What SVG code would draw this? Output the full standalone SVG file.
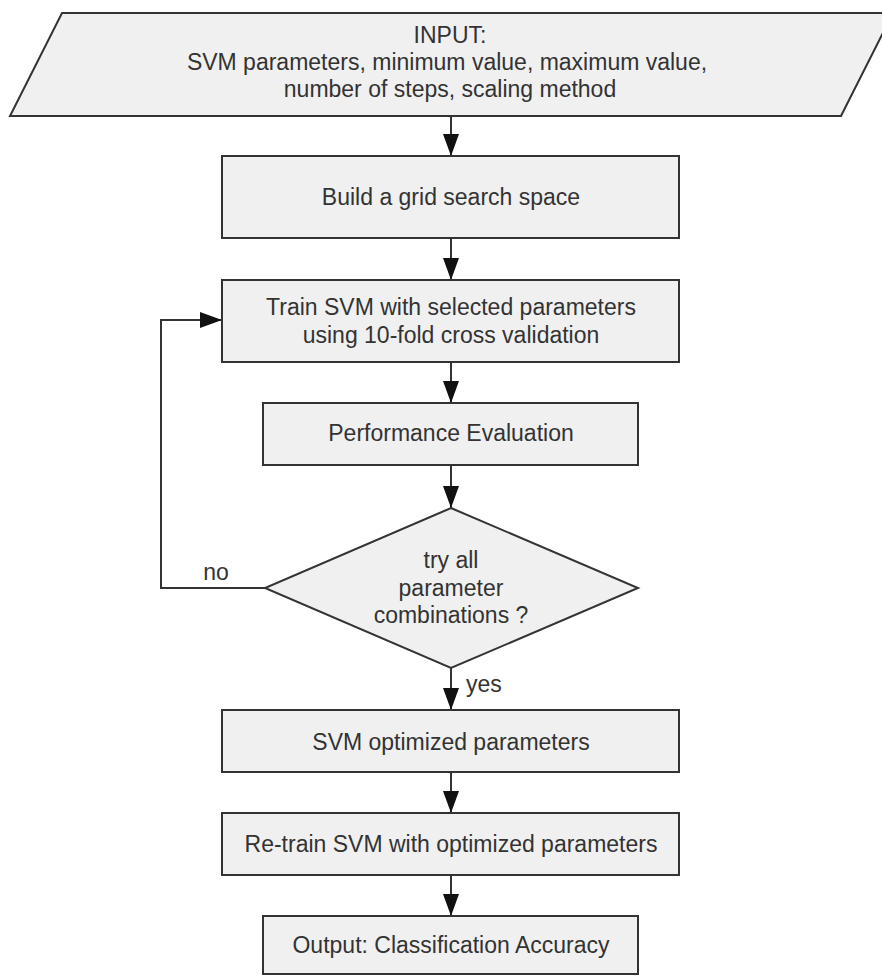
<svg xmlns="http://www.w3.org/2000/svg" width="882" height="976" viewBox="0 0 882 976">
<defs>
<style>
.shape{fill:#f0f0f0;stroke:#333;stroke-width:2}
.conn{fill:none;stroke:#333;stroke-width:2}
text{font-family:"Liberation Sans",Arial,sans-serif;font-size:23px;fill:#333;text-anchor:middle}
.lbl{font-size:23px}
</style>
<marker id="arr" markerUnits="userSpaceOnUse" markerWidth="22" markerHeight="16" refX="22" refY="8" orient="auto">
<path d="M0,0 L22,8 L0,16 Z" fill="#111"/>
</marker>
</defs>
<rect width="882" height="976" fill="#fff"/>
<g id="connectors">
<line class="conn" x1="451" y1="116" x2="451" y2="156" marker-end="url(#arr)"/>
<line class="conn" x1="451" y1="238" x2="451" y2="280" marker-end="url(#arr)"/>
<line class="conn" x1="451" y1="362" x2="451" y2="403" marker-end="url(#arr)"/>
<line class="conn" x1="451" y1="465" x2="451" y2="508" marker-end="url(#arr)"/>
<line class="conn" x1="451" y1="668" x2="451" y2="710" marker-end="url(#arr)"/>
<line class="conn" x1="451" y1="772" x2="451" y2="813" marker-end="url(#arr)"/>
<line class="conn" x1="451" y1="875" x2="451" y2="916" marker-end="url(#arr)"/>
<polyline class="conn" points="265,588 161,588 161,320 222,320" marker-end="url(#arr)"/>
<text class="lbl" x="216" y="580">no</text>
<text class="lbl" x="466" y="692" style="text-anchor:start">yes</text>
</g>
<g id="input">
<polygon class="shape" points="62,13 893,13 841,116 10,116"/>
<text x="450" y="43">INPUT:</text>
<text x="447" y="70">SVM parameters, minimum value, maximum value,</text>
<text x="450" y="97">number of steps, scaling method</text>
</g>
<g id="build">
<rect class="shape" x="222" y="156" width="457" height="82"/>
<text x="451" y="205">Build a grid search space</text>
</g>
<g id="train">
<rect class="shape" x="222" y="280" width="457" height="82"/>
<text x="451" y="315">Train SVM with selected parameters</text>
<text x="451" y="343">using 10-fold cross validation</text>
</g>
<g id="perf">
<rect class="shape" x="263" y="403" width="375" height="62"/>
<text x="451" y="441">Performance Evaluation</text>
</g>
<g id="decision">
<polygon class="shape" points="451,508 638,588 451,668 265,588"/>
<text x="451" y="568">try all</text>
<text x="451" y="596">parameter</text>
<text x="451" y="623">combinations ?</text>
</g>
<g id="optimized">
<rect class="shape" x="222" y="710" width="457" height="62"/>
<text x="451" y="750">SVM optimized parameters</text>
</g>
<g id="retrain">
<rect class="shape" x="222" y="813" width="457" height="62"/>
<text x="451" y="852">Re-train SVM with optimized parameters</text>
</g>
<g id="output">
<rect class="shape" x="263" y="916" width="375" height="58"/>
<text x="451" y="953">Output: Classification Accuracy</text>
</g>
</svg>
